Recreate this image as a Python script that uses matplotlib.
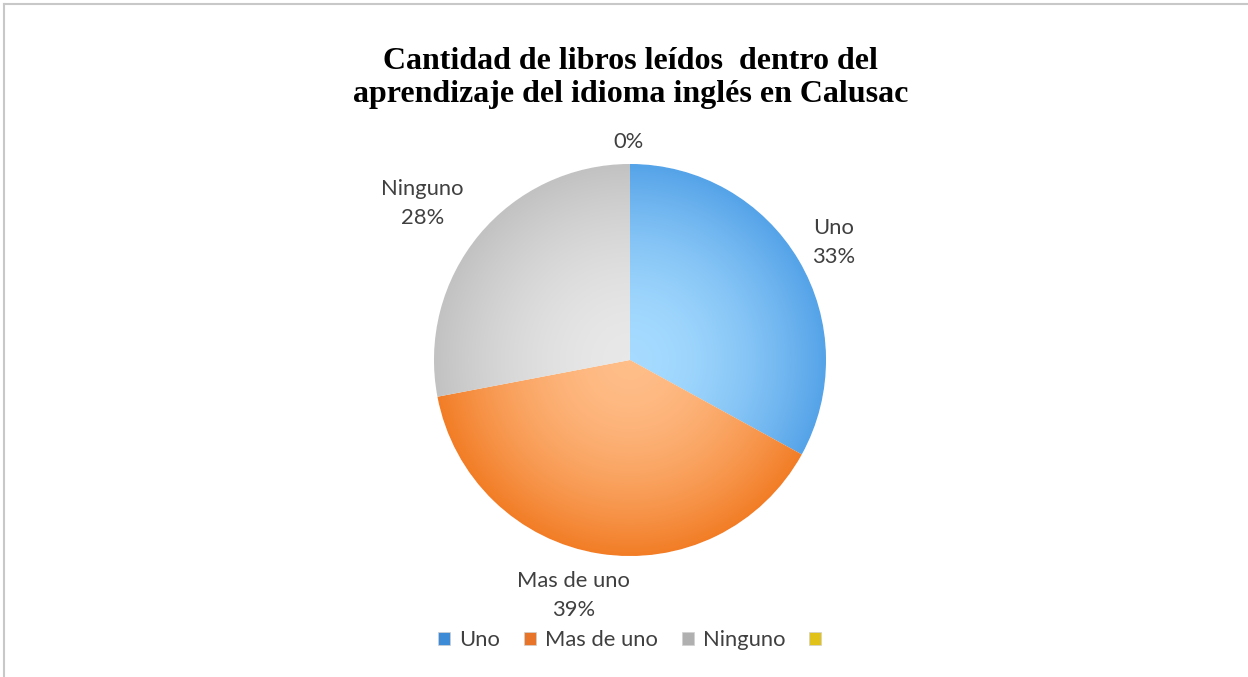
import matplotlib
matplotlib.use("Agg")
import matplotlib.pyplot as plt
from matplotlib.colors import LinearSegmentedColormap
from matplotlib.patches import Patch
from matplotlib.lines import Line2D
import numpy as np

# data
categories = ["Uno", "Mas de uno", "Ninguno", ""]
percents = [33, 39, 28, 0]
label_pos = [(1.04, 0.60), (-0.29, -1.20), (-1.06, 0.80), (-0.01, 1.11)]

# light (centre) -> dark (rim) for each slice
SHADES = [
    ("#a6dbff", "#55a3e8"),
    ("#ffbd88", "#f27d26"),
    ("#e8e8e8", "#c2c2c2"),
    ("#ffe866", "#d6b400"),
]
LEGEND_COLORS = ["#3d8ad6", "#e8742a", "#b0b0b0", "#e0c21a"]
TEXT = "#404040"

fig = plt.figure(figsize=(12.48, 6.77), dpi=100, facecolor="white")

# thin grey frame on top and left, like the copied chart area
fig.add_artist(Line2D([0.003, 1.0], [0.994, 0.994], color="#c8c8c8", lw=1.5,
                      transform=fig.transFigure))
fig.add_artist(Line2D([0.0035, 0.0035], [0.0, 0.994], color="#c8c8c8", lw=1.5,
                      transform=fig.transFigure))

# pie axes: centre (630, 360) px, radius 196 px
cx, cy, r = 630, 677 - 360, 196
ax = fig.add_axes([(cx - r) / 1248, (cy - r) / 677, 2 * r / 1248, 2 * r / 677])

wedges, _ = ax.pie(percents, startangle=90, counterclock=False,
                   colors=[s[1] for s in SHADES],
                   wedgeprops=dict(edgecolor="white", linewidth=0.8))
ax.set_xlim(-1, 1)
ax.set_ylim(-1, 1)
ax.set_aspect("auto")
ax.axis("off")

# radial shading inside each slice
xx, yy = np.meshgrid(np.linspace(-1, 1, 400), np.linspace(1, -1, 400))
rr = np.clip(np.sqrt(xx ** 2 + yy ** 2), 0, 1) ** 1.8
for w, (light, dark) in zip(wedges, SHADES):
    cmap = LinearSegmentedColormap.from_list("s", [light, dark])
    im = ax.imshow(rr, cmap=cmap, extent=[-1, 1, -1, 1], vmin=0, vmax=1,
                   zorder=w.get_zorder() + 0.1, interpolation="bilinear")
    im.set_clip_path(w)

# data labels
for cat, p, (lx, ly) in zip(categories, percents, label_pos):
    txt = f"{cat}\n{p}%" if cat else f"{p}%"
    ax.text(lx, ly, txt, ha="center", va="center", fontsize=15.8,
            color=TEXT, family="Lato", linespacing=1.55, clip_on=False)

fig.text(0.505, 0.885, "Cantidad de libros leídos  dentro del\n"
         "aprendizaje del idioma inglés en Calusac",
         ha="center", va="center", fontsize=23, fontweight="bold",
         family="Liberation Serif", linespacing=1.15, color="#000000")

handles = [Patch(facecolor=c, edgecolor="#d0d0d0", linewidth=0.5) for c in LEGEND_COLORS]
fig.legend(handles, categories, loc="center", bbox_to_anchor=(0.508, 0.054),
           ncol=4, frameon=False, handlelength=0.55,
           handleheight=0.55, handletextpad=0.4, columnspacing=1.1,
           labelcolor=TEXT, prop=dict(family="Lato", size=15.8))

fig.savefig("out.png", dpi=100, facecolor="white")
